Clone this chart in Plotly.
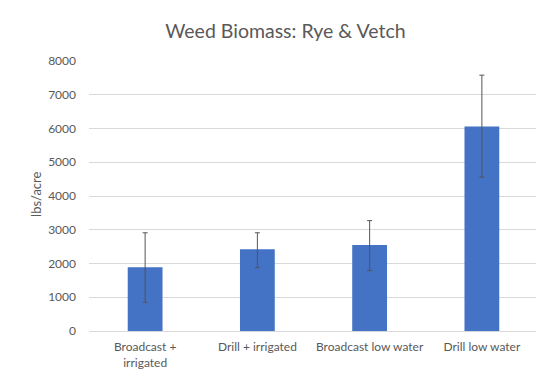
import plotly.graph_objects as go

categories = ["Broadcast +<br>irrigated", "Drill + irrigated", "Broadcast low water", "Drill low water"]
biomass = [1890, 2420, 2550, 6060]
error_plus = [1020, 490, 720, 1520]
error_minus = [1040, 540, 760, 1500]
y_ticks = [0, 1000, 2000, 3000, 4000, 5000, 6000, 7000, 8000]

fig = go.Figure(
    go.Bar(
        x=categories,
        y=biomass,
        marker=dict(color="#4472C4", line=dict(width=0)),
        error_y=dict(
            type="data",
            symmetric=False,
            array=error_plus,
            arrayminus=error_minus,
            color="#555555",
            thickness=1,
            width=2.5,
        ),
    )
)

fig.update_layout(
    width=544,
    height=377,
    margin=dict(l=81, r=14, t=53, b=54),
    paper_bgcolor="white",
    plot_bgcolor="white",
    bargap=0.69,
    showlegend=False,
    font=dict(family="Lato, Open Sans, sans-serif", color="#595959", size=12),
    title=dict(
        text="Weed Biomass: Rye & Vetch",
        x=0.51,
        xanchor="center",
        y=0.938,
        yanchor="middle",
        font=dict(size=19.5, color="#595959", family="Lato, Open Sans, sans-serif"),
    ),
    xaxis=dict(
        showgrid=False,
        showline=False,
        ticks="",
        automargin=False,
        ticklabelstandoff=7,
        tickfont=dict(size=12, color="#595959"),
    ),
    yaxis=dict(
        range=[0, 8000],
        tickvals=y_ticks,
        showgrid=True,
        gridcolor="#d9d9d9",
        gridwidth=1,
        zeroline=True,
        zerolinecolor="#d9d9d9",
        zerolinewidth=1,
        ticks="",
        automargin=False,
        ticklabelstandoff=12,
        tickfont=dict(size=12, color="#595959"),
    ),
    annotations=[
        dict(
            text="lbs/acre",
            xref="paper",
            yref="paper",
            x=-0.118,
            y=0.504,
            xanchor="center",
            yanchor="middle",
            textangle=-90,
            showarrow=False,
            font=dict(size=13, color="#595959"),
        )
    ],
)

fig.write_html("out.html")
